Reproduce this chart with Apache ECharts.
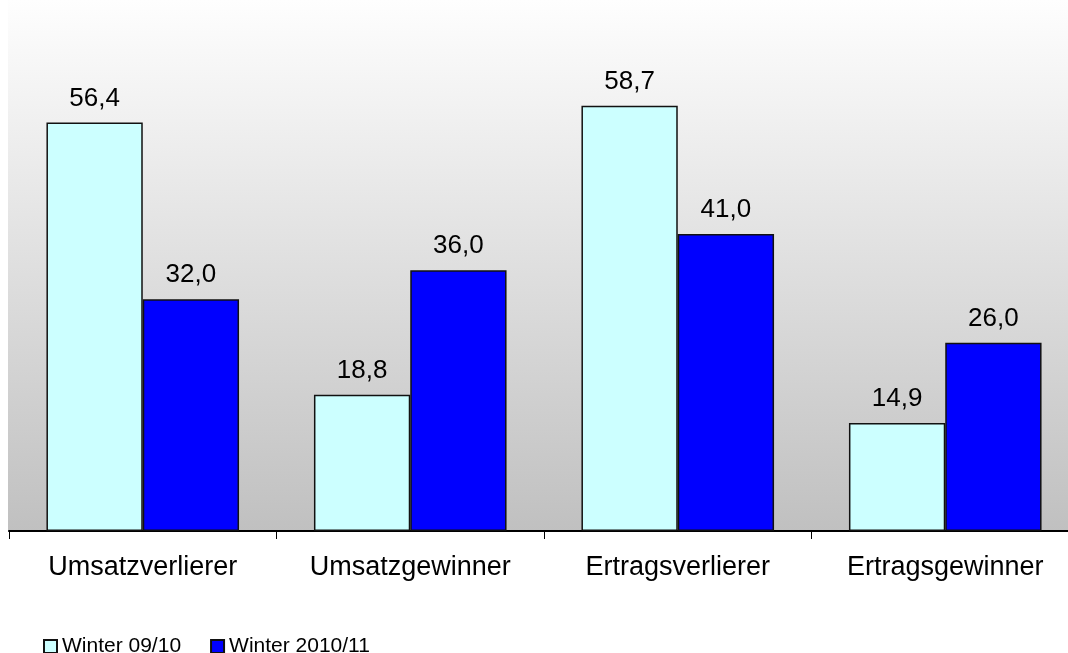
<!DOCTYPE html>
<html>
<head>
<meta charset="utf-8">
<script src="https://cdn.jsdelivr.net/npm/echarts@6/dist/echarts.min.js"></script>
<style>html,body{margin:0;padding:0;background:#fff}#c{width:1068px;height:653px}</style>
</head>
<body>
<div id="c"></div>
<script>
const categories = ['Umsatzverlierer', 'Umsatzgewinner', 'Ertragsverlierer', 'Ertragsgewinner'];
const seriesNames = ['Winter 09/10', 'Winter 2010/11'];
const winter0910 = [56.4, 18.8, 58.7, 14.9];
const winter1011 = [32.0, 36.0, 41.0, 26.0];

const chart = echarts.init(document.getElementById('c'), null, {renderer: 'canvas'});
const fmt = p => p.value.toFixed(1).replace('.', ',');
const labelCfg = {show: true, position: 'top', distance: 11, formatter: fmt, color: '#000', fontFamily: 'Liberation Sans, Arial, sans-serif', fontSize: 26};
chart.setOption({
  animation: false,
  graphic: [{
    type: 'rect', z: -10, silent: true,
    shape: {x: 8, y: 0, width: 1060, height: 532},
    style: {fill: new echarts.graphic.LinearGradient(0, 0, 0, 1, [{offset: 0, color: '#fefefe'}, {offset: 1, color: '#c0c0c0'}])}
  }],
  grid: {left: 9, right: -11, top: 24, bottom: 122, containLabel: false, outerBoundsMode: 'none'},
  legend: {
    left: 43, top: 636, padding: 0, itemWidth: 13, itemHeight: 13, itemGap: 29,
    icon: 'rect',
    textStyle: {fontFamily: 'Liberation Sans, Arial, sans-serif', fontSize: 21, color: '#000'},
    data: seriesNames
  },
  xAxis: {
    type: 'category', data: categories,
    axisLine: {lineStyle: {color: '#000', width: 2}},
    axisTick: {show: true, length: 8, lineStyle: {color: '#000', width: 1}},
    axisLabel: {color: '#000', fontFamily: 'Liberation Sans, Arial, sans-serif', fontSize: 27, margin: 23}
  },
  yAxis: {type: 'value', min: 0, max: 70, show: false, splitLine: {show: false}},
  series: [
    {name: seriesNames[0], type: 'bar', data: winter0910, barGap: '0%', barCategoryGap: '28%',
     itemStyle: {color: '#CCFFFF', borderColor: '#111', borderWidth: 1.5}, label: labelCfg},
    {name: seriesNames[1], type: 'bar', data: winter1011, barGap: '0%', barCategoryGap: '28%',
     itemStyle: {color: '#0000FF', borderColor: '#111', borderWidth: 1.5}, label: labelCfg}
  ]
});
</script>
</body>
</html>
